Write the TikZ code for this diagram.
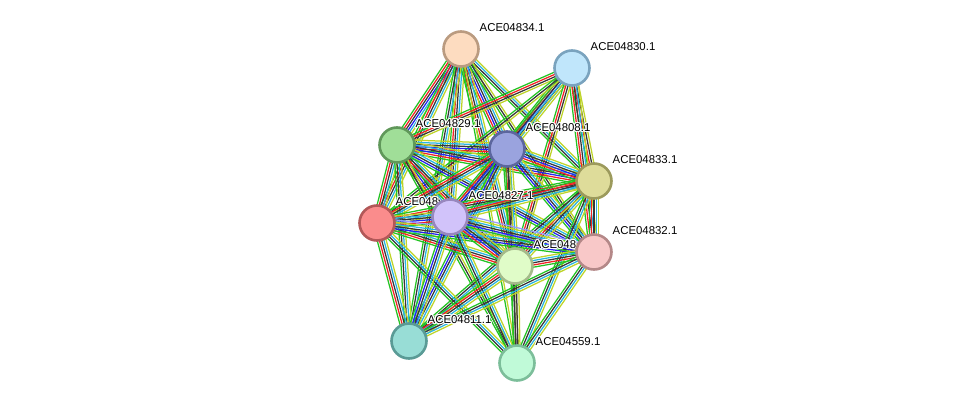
\documentclass[tikz,border=0pt]{standalone}
\usepackage{fontspec}
\setmainfont{Liberation Sans}
\usetikzlibrary{calc}
\definecolor{eg}{RGB}{35,195,35}
\definecolor{er}{RGB}{240,35,35}
\definecolor{eb}{RGB}{35,35,240}
\definecolor{ek}{RGB}{55,55,55}
\definecolor{ec}{RGB}{40,180,225}
\definecolor{ey}{RGB}{190,212,40}
\definecolor{ep}{RGB}{155,155,250}
\tikzset{
  edge/.style={line width=1.25pt},
  prot/.style={circle,minimum size=35pt,inner sep=0pt,line width=2.6pt},
  lbl/.style={inner sep=0pt,anchor=west,font=\fontsize{11.4}{13}\selectfont},
}
\newcommand\hcopy[3]{\rlap{\color{white}\kern#1pt\raisebox{#2pt}{#3}}}
\newcommand\halo[1]{\hcopy{1.2}{0}{#1}\hcopy{-1.2}{0}{#1}\hcopy{0}{1.2}{#1}\hcopy{0}{-1.2}{#1}%
  \hcopy{.85}{.85}{#1}\hcopy{-.85}{.85}{#1}\hcopy{.85}{-.85}{#1}\hcopy{-.85}{-.85}{#1}#1}
\newcommand\bund[4]{%
  \foreach \c [count=\i] in {#4}{%
    \pgfmathsetmacro\o{(\i-(#3+1)/2)*2.2}%
    \draw[edge,\c] ($(#1)!\o pt!90:(#2)$) -- ($(#2)!\o pt!-90:(#1)$);
  }}
\newcommand\lab[3]{%
  \node[lbl] (#1) at ($(#2)+(18.5,-21.5)$) {\halo{#3}};}
\begin{document}
\begin{tikzpicture}[x=1pt,y=-1pt]
\useasboundingbox[fill=white] (0,0) rectangle (975,409);
\coordinate (A) at (461,49);
\coordinate (B) at (572,68);
\coordinate (C) at (397,145);
\coordinate (D) at (507,149);
\coordinate (E) at (594,181);
\coordinate (F) at (377,223);
\coordinate (G) at (450,217);
\coordinate (H) at (515,266);
\coordinate (I) at (594,252);
\coordinate (J) at (409,341);
\coordinate (K) at (517,363);
% edges
\bund{A}{C}{6}{eg,er,ek,eb,ec,ey}
\bund{A}{D}{6}{eg,er,eb,ek,ec,ey}
\bund{A}{F}{5}{eg,er,ek,ec,ey}
\bund{A}{G}{5}{eg,er,ek,ec,ey}
\bund{A}{H}{5}{eg,er,ek,ec,ey}
\bund{A}{E}{4}{eg,ek,ec,ey}
\bund{A}{I}{3}{eg,ek,ey}
\bund{A}{J}{4}{eg,ek,ec,ey}
\bund{A}{K}{2}{eg,ey}
\bund{B}{C}{4}{eg,er,ek,ey}
\bund{B}{D}{6}{eg,er,eb,ek,ec,ey}
\bund{B}{E}{4}{eg,er,ek,ey}
\bund{B}{I}{5}{eg,er,ek,ec,ey}
\bund{B}{G}{4}{eg,ek,ec,ey}
\bund{B}{H}{4}{eg,er,ek,ey}
\bund{B}{F}{3}{eg,ek,ey}
\bund{C}{D}{6}{eg,er,eb,ek,ec,ey}
\bund{C}{E}{6}{eg,er,eb,ek,ec,ey}
\bund{C}{F}{5}{eg,er,ek,ec,ey}
\bund{C}{G}{6}{eg,er,eb,ek,ec,ey}
\bund{C}{H}{5}{eg,er,ek,ec,ey}
\bund{C}{I}{5}{eg,eb,ek,ec,ey}
\bund{C}{J}{4}{eg,ek,ec,ey}
\bund{C}{K}{3}{eg,ek,ey}
\bund{D}{E}{6}{eg,er,eb,ek,ec,ey}
\bund{D}{F}{5}{eg,er,ek,ec,ey}
\bund{D}{G}{6}{eg,er,eb,ek,ec,ey}
\bund{D}{H}{5}{eg,er,ek,ec,ey}
\bund{D}{I}{5}{eg,eb,ek,ec,ey}
\bund{D}{J}{5}{eg,eb,ek,ec,ey}
\bund{D}{K}{3}{eg,ek,ey}
\bund{E}{F}{5}{eg,er,ek,ec,ey}
\bund{E}{G}{5}{eg,er,ek,ec,ey}
\bund{E}{H}{5}{eg,er,ek,ec,ey}
\bund{E}{I}{5}{eg,er,ek,ec,ey}
\bund{E}{J}{4}{eg,ek,ec,ey}
\bund{E}{K}{4}{eg,ek,ec,ey}
\bund{F}{G}{6}{eg,er,eb,ek,ec,ey}
\bund{F}{H}{5}{eg,er,ek,ec,ey}
\bund{F}{I}{6}{eg,eb,ek,ec,ey,ep}
\bund{F}{J}{5}{eg,er,ek,ec,ey}
\bund{F}{K}{4}{eg,ek,ec,ey}
\bund{G}{H}{6}{eg,er,eb,ek,ec,ey}
\bund{G}{I}{6}{eg,eb,ek,ec,ey,ep}
\bund{G}{J}{5}{eg,eb,ek,ec,ey}
\bund{G}{K}{4}{eg,ek,ec,ey}
\bund{H}{I}{5}{eg,er,ek,ec,ey}
\bund{H}{J}{5}{eg,er,ek,ec,ey}
\bund{H}{K}{4}{eg,ek,ek,ey}
\bund{I}{J}{4}{eg,ek,ec,ey}
\bund{I}{K}{4}{eg,ek,ec,ey}
% labels
\lab{tA}{A}{ACE04834.1}
\lab{tB}{B}{ACE04830.1}
\lab{tC}{C}{ACE04829.1}
\lab{tD}{D}{ACE04808.1}
\lab{tE}{E}{ACE04833.1}
\lab{tF}{F}{ACE048}
\lab{tG}{G}{ACE04827.1}
\lab{tH}{H}{ACE048}
\lab{tI}{I}{ACE04832.1}
\lab{tJ}{J}{ACE04811.1}
\lab{tK}{K}{ACE04559.1}
% nodes
\node[prot,fill={rgb,255:red,253;green,220;blue,192},draw={rgb,255:red,186;green,155;blue,128}] (nA) at (A) {};
\node[prot,fill={rgb,255:red,192;green,230;blue,251},draw={rgb,255:red,122;green,163;blue,190}] (nB) at (B) {};
\node[prot,fill={rgb,255:red,160;green,222;blue,152},draw={rgb,255:red,96;green,152;blue,90}] (nC) at (C) {};
\node[prot,fill={rgb,255:red,154;green,163;blue,222},draw={rgb,255:red,92;green,102;blue,158}] (nD) at (D) {};
\node[prot,fill={rgb,255:red,222;green,220;blue,154},draw={rgb,255:red,156;green,154;blue,92}] (nE) at (E) {};
\node[prot,fill={rgb,255:red,250;green,140;blue,140},draw={rgb,255:red,178;green,88;blue,88}] (nF) at (F) {};
\node[prot,fill={rgb,255:red,209;green,195;blue,250},draw={rgb,255:red,152;green,135;blue,190}] (nG) at (G) {};
\node[prot,fill={rgb,255:red,224;green,252;blue,200},draw={rgb,255:red,165;green,186;blue,138}] (nH) at (H) {};
\node[prot,fill={rgb,255:red,248;green,200;blue,200},draw={rgb,255:red,180;green,136;blue,136}] (nI) at (I) {};
\node[prot,fill={rgb,255:red,152;green,221;blue,214},draw={rgb,255:red,90;green,155;blue,150}] (nJ) at (J) {};
\node[prot,fill={rgb,255:red,192;green,250;blue,216},draw={rgb,255:red,124;green,190;blue,154}] (nK) at (K) {};
\end{tikzpicture}
\end{document}
